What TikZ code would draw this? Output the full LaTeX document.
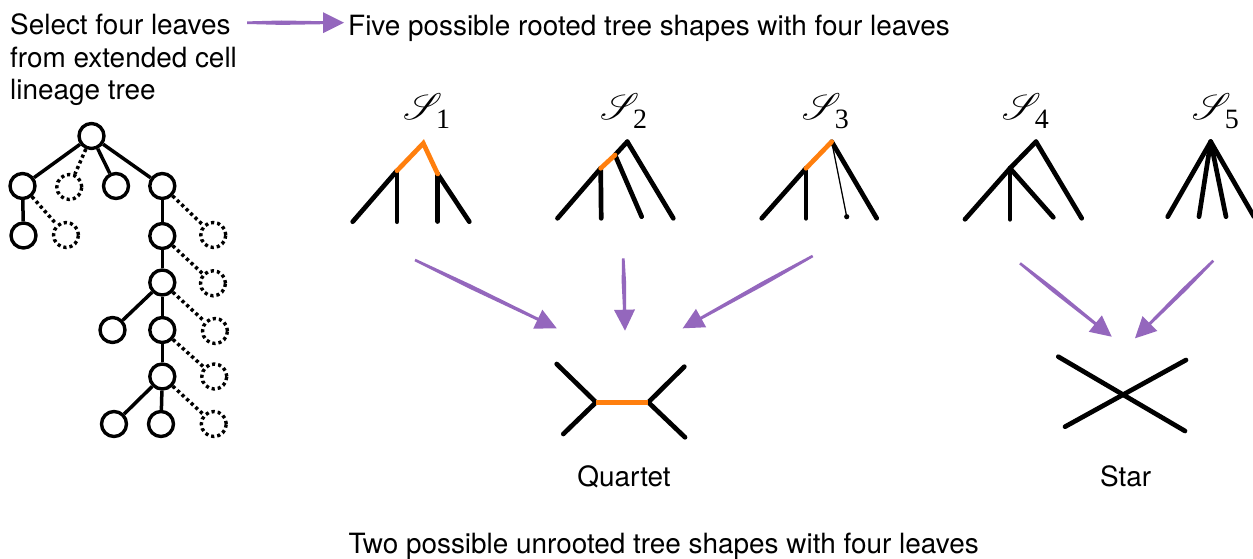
\documentclass[tikz,border=0pt]{standalone}
\usepackage{fontspec}
\setmainfont{TeX Gyre Heros}
\newfontfamily\tnr{Liberation Serif}
\usepackage{pdfrender}
\usetikzlibrary{calc}
\definecolor{lin}{HTML}{9467BD}
\definecolor{org}{HTML}{FF7F0E}

% freely scalable script capitals
\DeclareFontFamily{U}{scriptcaps}{}
\DeclareFontShape{U}{scriptcaps}{m}{n}{<-> rsfs10}{}

% tapered brush arrow from a start coordinate to a tip coordinate
\newcommand{\brusharrow}[2]{%
  \coordinate (ba-s) at (#1);
  \coordinate (ba-t) at (#2);
  \coordinate (ba-b) at ($(ba-t)!21pt!(ba-s)$);
  \coordinate (ba-m) at ($(ba-s)!0.45!(ba-b)$);
  \fill[lin] ($(ba-s)!1.3pt!90:(ba-b)$) -- ($(ba-m)!2.2pt!90:(ba-b)$)
    -- ($(ba-b)!1.5pt!-90:(ba-s)$) -- ($(ba-b)!10.5pt!-90:(ba-s)$)
    -- (ba-t)
    -- ($(ba-b)!10.5pt!90:(ba-s)$) -- ($(ba-b)!1.5pt!90:(ba-s)$)
    -- ($(ba-m)!2.2pt!-90:(ba-b)$) -- ($(ba-s)!1.3pt!-90:(ba-b)$) -- cycle;
}
% script S (slightly emboldened) with a lowered serif index
\newcommand{\shapelabel}[1]{\makebox[27pt][c]{\hspace{5pt}\textpdfrender{TextRenderingMode=FillStroke,LineWidth=0.55pt}{\fontsize{37}{37}\usefont{U}{scriptcaps}{m}{n}S}}\hspace{6pt}\raisebox{-9pt}{\fontsize{28}{28}\tnr #1}}

\tikzset{
  cell/.style={circle, draw, line width=3.4pt, minimum size=25pt, inner sep=0pt},
  ghost/.style={cell, dash pattern=on 3.2pt off 3pt},
  edge/.style={line width=3.5pt},
  ghostedge/.style={line width=3.5pt, dash pattern=on 3.2pt off 3pt},
  branch/.style={line width=4.7pt, line cap=round},
  hot/.style={branch, draw=org},
  fine/.style={line width=1.3pt},
  caption/.style={inner sep=0pt, anchor=base west, font=\fontsize{27.9}{32.5}\selectfont},
  midcaption/.style={caption, anchor=base},
  shapename/.style={inner sep=0pt, anchor=base west},
}

\begin{document}
\begin{tikzpicture}[x=1pt,y=-1pt]
\clip (0,0) rectangle (1253,559);
\fill[white] (0,0) rectangle (1253,559);

% ---- headings ----
\node[caption] (select) at (10,35) {\parbox[t]{250pt}{\raggedright\fontsize{27.9}{32.3}\selectfont Select four leaves\\from extended cell\\lineage tree}};
\node[caption] (five) at (348,35.5) {Five possible rooted tree shapes with four leaves};
\coordinate (top-s) at (247,22.7);
\coordinate (top-t) at (344,22.7);
\brusharrow{top-s}{top-t}

% ---- extended cell lineage tree ----
\node[cell]  (r)   at (91.5,136) {};
\node[cell]  (a1)  at (22.5,186) {};
\node[ghost] (d1)  at (69.3,187) {};
\node[cell]  (a2)  at (116,186) {};
\node[cell]  (b)   at (162.3,186) {};
\node[cell]  (a1c) at (23.5,235.5) {};
\node[ghost] (d2)  at (66,235) {};
\node[cell]  (c)   at (162.3,236) {};
\node[ghost] (d3)  at (213.3,235) {};
\node[cell]  (dd)  at (162.3,282.5) {};
\node[ghost] (d4)  at (213,283.3) {};
\node[cell]  (l1)  at (112.5,330) {};
\node[cell]  (e)   at (162.3,330) {};
\node[ghost] (d5)  at (215,331) {};
\node[cell]  (f)   at (162.3,376.5) {};
\node[ghost] (d6)  at (214.3,376.5) {};
\node[cell]  (g1)  at (114,424) {};
\node[cell]  (g2)  at (161,424) {};
\node[ghost] (d7)  at (213.8,424) {};

\draw[edge] (r) -- (a1);
\draw[edge] (r) -- (a2);
\draw[edge] (r) -- (b);
\draw[edge] (a1) -- (a1c);
\draw[edge] (b) -- (c);
\draw[edge] (c) -- (dd);
\draw[edge] (dd) -- (l1);
\draw[edge] (dd) -- (e);
\draw[edge] (e) -- (f);
\draw[edge] (f) -- (g1);
\draw[edge] (f) -- (g2);
\draw[ghostedge] (r) -- (d1);
\draw[ghostedge] (a1) -- (d2);
\draw[ghostedge] (b) -- (d3);
\draw[ghostedge] (c) -- (d4);
\draw[ghostedge] (dd) -- (d5);
\draw[ghostedge] (e) -- (d6);
\draw[ghostedge] (f) -- (d7);

% ---- rooted shapes ----
\node[shapename] (lab1) at (403,120) {\shapelabel{1}};
\node[shapename] (lab2) at (600,120) {\shapelabel{2}};
\node[shapename] (lab3) at (801.7,120) {\shapelabel{3}};
\node[shapename] (lab4) at (1001.7,120) {\shapelabel{4}};
\node[shapename] (lab5) at (1191.7,120) {\shapelabel{5}};

% S1
\coordinate (s1r) at (423.3,143.3);
\coordinate (s1a) at (397,170.7);
\coordinate (s1b) at (437.7,174);
\coordinate (s1l1) at (352.7,221.7);
\coordinate (s1l2) at (397,221.7);
\coordinate (s1l3) at (437.7,221.5);
\coordinate (s1l4) at (469.3,221.7);
\draw[branch] (s1a) -- (s1l1);
\draw[branch] (s1a) -- (s1l2);
\draw[branch] (s1b) -- (s1l3);
\draw[branch] (s1b) -- (s1l4);
\draw[hot] (s1a) -- (s1r) -- (s1b);

% S2
\coordinate (s2r) at (627.3,141.7);
\coordinate (s2a) at (615,155);
\coordinate (s2b) at (600.7,168.3);
\coordinate (s2l1) at (557.5,218.3);
\coordinate (s2l2) at (601.2,218.3);
\coordinate (s2l3) at (641.7,216.7);
\coordinate (s2l4) at (673.3,218.3);
\draw[branch] (s2r) -- (s2a);
\draw[branch] (s2b) -- (s2l1);
\draw[branch] (s2b) -- (s2l2);
\draw[branch] (s2a) -- (s2l3);
\draw[branch] (s2r) -- (s2l4);
\draw[hot] (s2b) -- (s2a);

% S3
\coordinate (s3r) at (831.7,141.7);
\coordinate (s3a) at (806,168.3);
\coordinate (s3l1) at (761.7,218.3);
\coordinate (s3l2) at (806,218.3);
\coordinate (s3l3) at (846.7,216.7);
\coordinate (s3l4) at (876.7,218.3);
\draw[branch] (s3a) -- (s3l1);
\draw[branch] (s3a) -- (s3l2);
\draw[branch] (s3r) -- (s3l4);
\draw[fine] (s3r) -- (s3l3);
\fill (s3l3) circle (2.6pt);
\draw[hot] (s3a) -- (s3r);

% S4
\coordinate (s4r) at (1036,141.7);
\coordinate (s4a) at (1010,168.3);
\coordinate (s4l1) at (965,219.3);
\coordinate (s4l2) at (1010,219.3);
\coordinate (s4l3) at (1053.3,217.3);
\coordinate (s4l4) at (1081.7,218.3);
\draw[branch] (s4r) -- (s4a);
\draw[branch] (s4a) -- (s4l1);
\draw[branch] (s4a) -- (s4l2);
\draw[branch] (s4a) -- (s4l3);
\draw[branch] (s4r) -- (s4l4);

% S5
\coordinate (s5r) at (1210.7,141.7);
\coordinate (s5l1) at (1167.7,216.7);
\coordinate (s5l2) at (1199,216.7);
\coordinate (s5l3) at (1226,216.7);
\coordinate (s5l4) at (1254,216.7);
\draw[branch] (s5r) -- (s5l1);
\draw[branch] (s5r) -- (s5l2);
\draw[branch] (s5r) -- (s5l3);
\draw[branch] (s5r) -- (s5l4);

% ---- arrows to unrooted shapes ----
\coordinate (ar1s) at (415,260);     \coordinate (ar1t) at (556.7,328.3);
\coordinate (ar2s) at (623.3,258.3); \coordinate (ar2t) at (625,330.7);
\coordinate (ar3s) at (812.7,256);   \coordinate (ar3t) at (682.7,328.3);
\coordinate (ar4s) at (1020,263.3);  \coordinate (ar4t) at (1111.7,336.7);
\coordinate (ar5s) at (1213.3,260.7);\coordinate (ar5t) at (1135,338.3);
\brusharrow{ar1s}{ar1t}
\brusharrow{ar2s}{ar2t}
\brusharrow{ar3s}{ar3t}
\brusharrow{ar4s}{ar4t}
\brusharrow{ar5s}{ar5t}

% ---- quartet ----
\coordinate (qu) at (596,402.3);
\coordinate (qv) at (648.3,402.3);
\coordinate (ql1) at (556.7,364);
\coordinate (ql2) at (563.3,434);
\coordinate (ql3) at (684.3,366.7);
\coordinate (ql4) at (685,437.3);
\draw[branch] (qu) -- (ql1);
\draw[branch] (qu) -- (ql2);
\draw[branch] (qv) -- (ql3);
\draw[branch] (qv) -- (ql4);
\draw[hot, line cap=butt] (qu) -- (qv);
\node[midcaption] (quartet) at (624,486.7) {Quartet};

% ---- star ----
\coordinate (st1) at (1058.3,356.7);
\coordinate (st2) at (1185,431);
\coordinate (st3) at (1186,360);
\coordinate (st4) at (1065,426.7);
\draw[branch] (st1) -- (st2);
\draw[branch] (st3) -- (st4);
\node[midcaption] (star) at (1125.7,486.7) {Star};

\node[caption] (two) at (348.3,553) {Two possible unrooted tree shapes with four leaves};
\end{tikzpicture}
\end{document}
